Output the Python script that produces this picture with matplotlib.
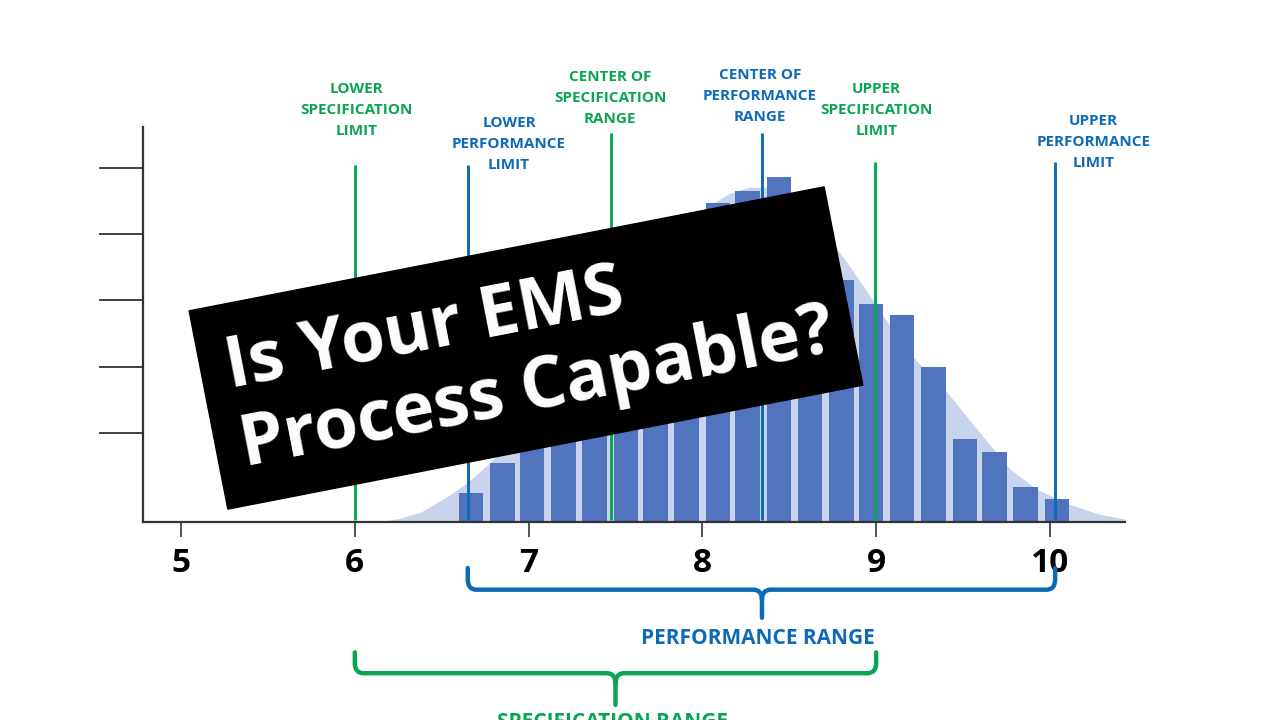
import numpy as np
import matplotlib
matplotlib.use("Agg")
import matplotlib.pyplot as plt
from matplotlib.patches import Rectangle, PathPatch
from matplotlib.path import Path
from matplotlib.transforms import Affine2D, blended_transform_factory

# histogram (bin centers, bar heights in tick units)
bin_centers = [6.67, 6.85, 7.02, 7.20, 7.38, 7.56, 7.73, 7.91, 8.09, 8.26,
               8.44, 8.62, 8.80, 8.97, 9.15, 9.33, 9.51, 9.68, 9.86, 10.04]
bar_heights = [0.44, 0.89, 1.80, 2.35, 2.85, 3.30, 3.80, 4.45, 4.81, 4.99,
               5.20, 4.50, 3.65, 3.29, 3.12, 2.34, 1.25, 1.06, 0.53, 0.35]

# light density curve behind the bars
curve_x = [6.12, 6.25, 6.38, 6.53, 6.65, 6.78, 6.90, 7.00, 7.15, 7.30, 7.45,
           7.60, 7.80, 8.00, 8.15, 8.27, 8.38, 8.49, 8.60, 8.70, 8.85, 8.98,
           9.10, 9.23, 9.32, 9.41, 9.58, 9.77, 9.92, 10.11, 10.28, 10.46]
curve_y = [0.00, 0.05, 0.15, 0.38, 0.60, 0.90, 1.25, 1.60, 2.15, 2.70, 3.20,
           3.65, 4.25, 4.70, 4.95, 5.05, 5.05, 4.96, 4.72, 4.38, 3.85, 3.35,
           2.88, 2.44, 2.18, 1.95, 1.40, 0.80, 0.50, 0.27, 0.12, 0.03]

x_ticks = [5, 6, 7, 8, 9, 10]
y_ticks = [1.34, 2.34, 3.35, 4.34, 5.34]

# limit lines: (x, top, colour key, label, label x, label y)
limits = [
    (6.00, 5.38, "g", "LOWER\nSPECIFICATION\nLIMIT", 6.01, 0.847),
    (6.65, 5.38, "b", "LOWER\nPERFORMANCE\nLIMIT", 6.887, 0.800),
    (7.474, 5.87, "g", "CENTER OF\nSPECIFICATION\nRANGE", 7.47, 0.864),
    (8.343, 5.87, "b", "CENTER OF\nPERFORMANCE\nRANGE", 8.33, 0.867),
    (8.993, 5.43, "g", "UPPER\nSPECIFICATION\nLIMIT", 9.0, 0.847),
    (10.03, 5.43, "b", "UPPER\nPERFORMANCE\nLIMIT", 10.25, 0.803),
]

GREEN = "#0aa550"
BLUE = "#0d6ab8"
BAR = "#5174bf"
FILL = "#c8d4ec"
cols = {"g": GREEN, "b": BLUE}
narrow = ["Liberation Sans Narrow", "Open Sans", "DejaVu Sans"]

fig = plt.figure(figsize=(12.8, 7.2), dpi=100)
ax = fig.add_axes([0.1117, 0.275, 0.7672, 0.5486])

ax.fill_between(curve_x, curve_y, 0, color=FILL, lw=0, zorder=1)
ax.bar(bin_centers, bar_heights, width=0.141, color=BAR, zorder=2)
for x, top, c, lab, lx, ly in limits:
    ax.vlines(x, 0.03, top, color=cols[c], lw=2.1, zorder=3)

ax.set_xlim(4.781, 10.432)
ax.set_ylim(0, 5.958)
for s in ["top", "right"]:
    ax.spines[s].set_visible(False)
for s in ["left", "bottom"]:
    ax.spines[s].set_color("#333333")
    ax.spines[s].set_linewidth(1.6)
ax.set_xticks(x_ticks)
ax.set_xticklabels([str(t) for t in x_ticks], family=narrow,
                   fontweight="bold", fontsize=24)
ax.tick_params(axis="x", length=11, width=1.2, color="#333333", pad=7)
ax.set_yticks(y_ticks)
ax.set_yticklabels([])
ax.tick_params(axis="y", length=32, width=1.3, color="#333333")

# labels above the lines
mix = blended_transform_factory(ax.transData, fig.transFigure)
for x, top, c, lab, lx, ly in limits:
    fig.text(lx, ly, lab, transform=mix, ha="center", va="center",
             color=cols[c], family=narrow, fontweight="bold", fontsize=11,
             linespacing=1.62)


def brace(a, b, tip_x, y_top, y_mid, y_tip, color):
    rx, ry = 0.05, 0.014
    verts = [(a, y_top), (a, y_mid + ry), (a, y_mid), (a + rx, y_mid),
             (tip_x - rx, y_mid), (tip_x, y_mid), (tip_x, y_mid - ry),
             (tip_x, y_tip),
             (tip_x, y_mid - ry), (tip_x, y_mid), (tip_x + rx, y_mid),
             (b - rx, y_mid), (b, y_mid), (b, y_mid + ry), (b, y_top)]
    codes = [Path.MOVETO, Path.LINETO, Path.CURVE3, Path.CURVE3,
             Path.LINETO, Path.CURVE3, Path.CURVE3, Path.LINETO,
             Path.MOVETO, Path.CURVE3, Path.CURVE3,
             Path.LINETO, Path.CURVE3, Path.CURVE3, Path.LINETO]
    fig.patches.append(PathPatch(Path(verts, codes), transform=mix,
                                 fill=False, ec=color, lw=3.2,
                                 capstyle="round", joinstyle="round"))


brace(6.65, 10.03, 8.343, 0.211, 0.181, 0.142, BLUE)
brace(6.0, 9.0, 7.50, 0.094, 0.065, 0.021, GREEN)
fig.text(8.32, 0.1125, "PERFORMANCE RANGE", transform=mix, ha="center",
         va="center", color=BLUE, family=narrow, fontweight="bold", fontsize=15)
fig.text(7.48, -0.003, "SPECIFICATION RANGE", transform=mix, ha="center",
         va="center", color=GREEN, family=narrow, fontweight="bold", fontsize=15)

# rotated black title box, in pixel coordinates (y up)
pix = Affine2D().scale(1 / 1280, 1 / 720) + fig.transFigure
angle = 11.05
box = Rectangle((526 - 323.5, 372 - 101), 647, 202, angle=angle,
                rotation_point="center", transform=pix, color="black",
                zorder=10)
fig.patches.append(box)
fig.text(530, 370, "Is Your EMS\nProcess Capable?", transform=pix,
         rotation=angle, rotation_mode="anchor", ha="center", va="center",
         multialignment="left", color="white", family=["Open Sans", "DejaVu Sans"],
         fontweight="bold", fontsize=51, linespacing=1.15, zorder=11)

fig.savefig("out.png", dpi=100)
